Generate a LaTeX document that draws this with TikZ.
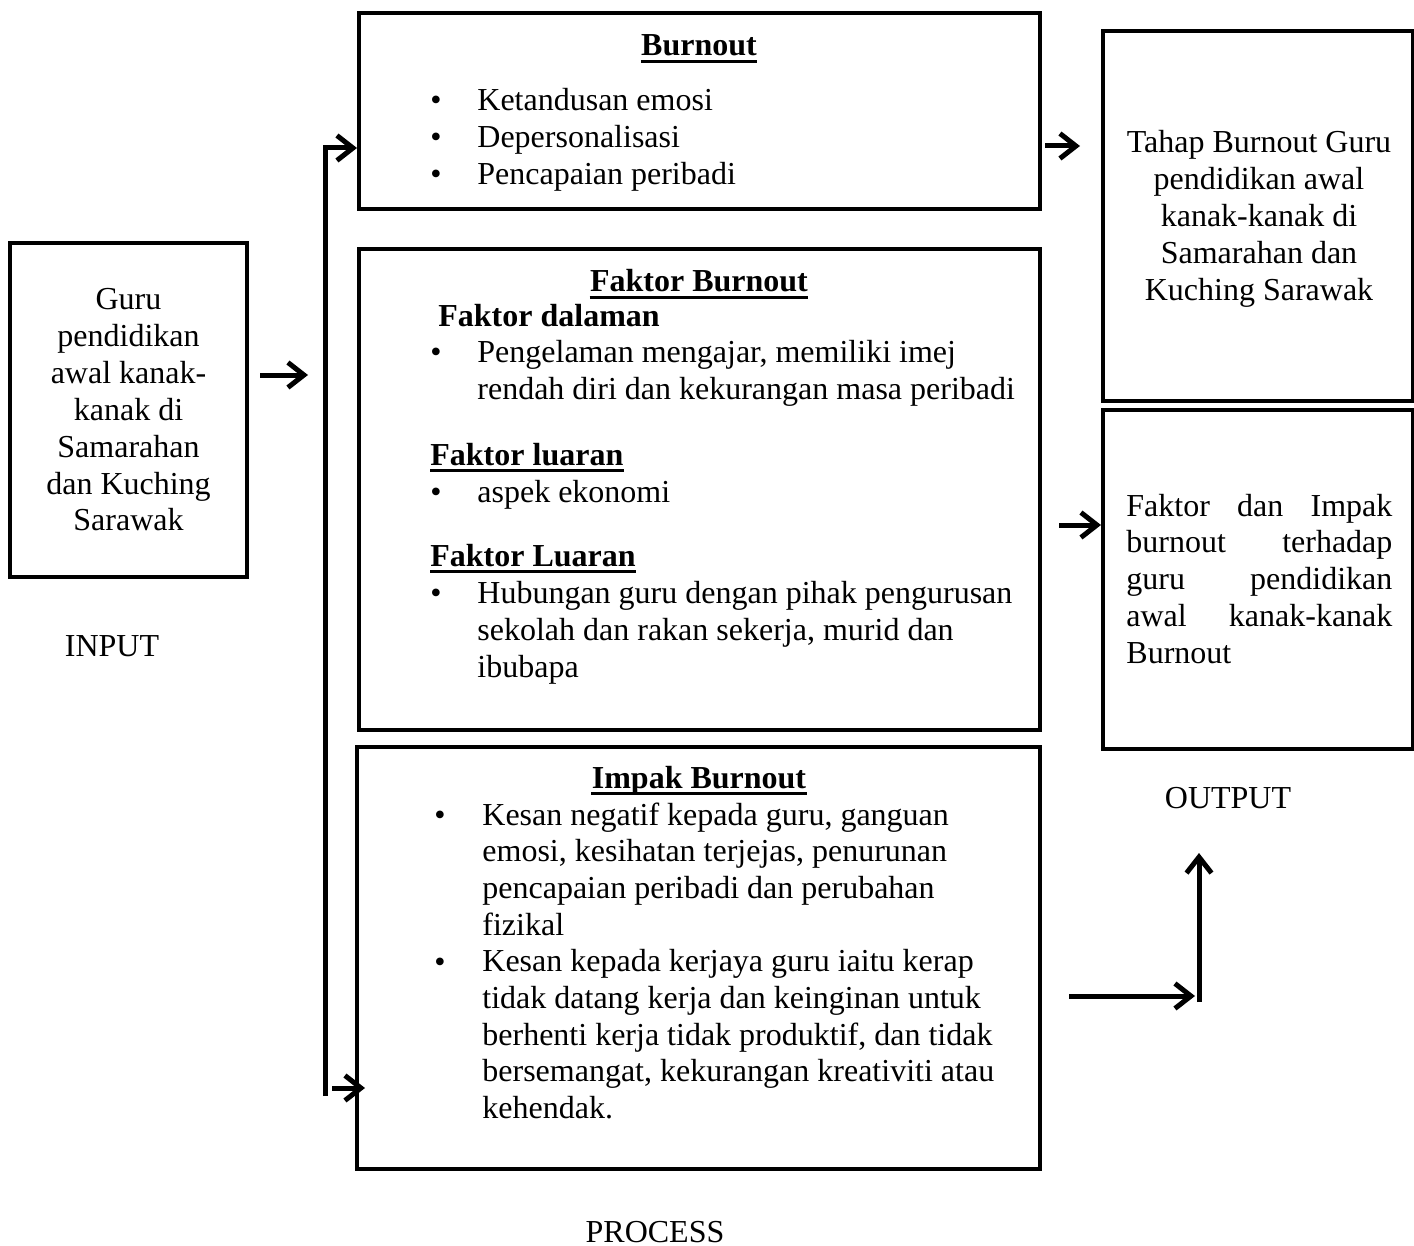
\documentclass[tikz,border=0pt]{standalone}
\usepackage{fontspec}
\setmainfont{Liberation Serif}
\usetikzlibrary{arrows.meta,fit}

\tikzset{
  box/.style={draw, line width=2pt, inner sep=0pt},
  flow/.style={line width=2.5pt, -{Straight Barb[length=8pt,width=12.5pt]}},
  txt/.style={inner sep=0pt, font=\fontsize{16}{18.5}\selectfont},
  head/.style={inner sep=0pt, font=\fontsize{16}{18.5}\selectfont\bfseries},
  uline/.style={line width=1.6pt},
}

\begin{document}
\begin{tikzpicture}[x=0.5pt,y=-0.5pt]
        \useasboundingbox (0,0) rectangle (1414,1246);

        % corners of the boxes
        \coordinate (inTL) at (10,243);    \coordinate (inBR) at (247,577);
        \coordinate (buTL) at (359,13);    \coordinate (buBR) at (1040,209);
        \coordinate (fkTL) at (359,249);   \coordinate (fkBR) at (1040,730);
        \coordinate (imTL) at (357,747);   \coordinate (imBR) at (1040,1169);
        \coordinate (thTL) at (1103,31);   \coordinate (thBR) at (1413,401);
        \coordinate (ioTL) at (1103,410);  \coordinate (ioBR) at (1413,749);

        \node[box, fit=(inTL)(inBR)] (input) {};
        \node[box, fit=(buTL)(buBR)] (burnout) {};
        \node[box, fit=(fkTL)(fkBR)] (faktor) {};
        \node[box, fit=(imTL)(imBR)] (impak) {};
        \node[box, fit=(thTL)(thBR)] (tahap) {};
        \node[box, fit=(ioTL)(ioBR)] (impakout) {};

        % arrows
        \coordinate (inA) at (260,375);
        \coordinate (inB) at (308,375);
        \coordinate (spineB) at (325,1096);
        \coordinate (spineT) at (325,148);
        \coordinate (lowA) at (332,1088);
        \coordinate (lowB) at (365,1088);
        \coordinate (buA) at (1045,146);
        \coordinate (buB) at (1080,146);
        \coordinate (fkA) at (1059,525);
        \coordinate (imA) at (1069,996);
        \coordinate (imB) at (1195,996);
        \coordinate (upB) at (1199,1002);
        \coordinate (upT) at (1199,853);

        \draw[flow] (inA) -- (inB);
        \draw[flow] (spineB) -- (spineT) -- (spineT -| burnout.west);
        \draw[flow] (lowA) -- (lowB);
        \draw[flow] (buA) -- (buB);
        \draw[flow] (fkA) -- (fkA -| impakout.west);
        \draw[flow] (imA) -- (imB);
        \draw[flow] (upB) -- (upT);

        % input
        \foreach \t [count=\i] in {Guru, pendidikan, awal kanak-, kanak di, Samarahan, dan Kuching, Sarawak}
          \node[txt, anchor=base] (in\i) at (128.5, 273.2+36.8*\i) {\t};
        \node[txt, anchor=base] (inlabel) at (112,656) {INPUT};

        % burnout
        \node[head, anchor=base] (t1) at (699,56) {Burnout};
        \foreach \t [count=\i] in {Ketandusan emosi, Depersonalisasi, Pencapaian peribadi} {
          \node[txt, anchor=base west] (bu\i) at (477, 74+37*\i) {\t};
          \node[txt, anchor=base west] (bud\i) at (430, 74+37*\i) {•};
        }

        % faktor burnout
        \node[head, anchor=base] (t2) at (699,292) {Faktor Burnout};
        \node[head, anchor=base west] (dalam) at (438,327) {Faktor dalaman};
        \node[txt, anchor=base west] (fkd1) at (430,363) {•};
        \foreach \t [count=\i] in {{Pengelaman mengajar, memiliki imej}, rendah diri dan kekurangan masa peribadi}
          \node[txt, anchor=base west] (fk\i) at (477, 326+37*\i) {\t};
        \node[head, anchor=base west] (t3) at (430,465) {Faktor luaran};
        \node[txt, anchor=base west] (fkd2) at (430,502) {•};
        \node[txt, anchor=base west] (eko) at (477,502) {aspek ekonomi};
        \node[head, anchor=base west] (t4) at (430,566) {Faktor Luaran};
        \node[txt, anchor=base west] (fkd3) at (430,603) {•};
        \foreach \t [count=\i] in {Hubungan guru dengan pihak pengurusan, {sekolah dan rakan sekerja, murid dan}, ibubapa}
          \node[txt, anchor=base west] (hub\i) at (477, 566+37*\i) {\t};

        % impak burnout
        \node[head, anchor=base] (t5) at (699,788) {Impak Burnout};
        \node[txt, anchor=base west] (imd1) at (434,825) {•};
        \node[txt, anchor=base west] (imd2) at (434,972) {•};
        \foreach \t [count=\i] in {{Kesan negatif kepada guru, ganguan}, {emosi, kesihatan terjejas, penurunan}, pencapaian peribadi dan perubahan, fizikal, Kesan kepada kerjaya guru iaitu kerap, tidak datang kerja dan keinginan untuk, {berhenti kerja tidak produktif, dan tidak}, {bersemangat, kekurangan kreativiti atau}, kehendak.}
          \node[txt, anchor=base west] (im\i) at (482, 788.3+36.7*\i) {\t};
        \node[txt, anchor=base] (prlabel) at (655,1242) {PROCESS};

        % output
        \foreach \t [count=\i] in {Tahap Burnout Guru, pendidikan awal, kanak-kanak di, Samarahan dan, Kuching Sarawak}
          \node[txt, anchor=base] (th\i) at (1259, 116+37*\i) {\t};
        \foreach \t [count=\i] in {Faktor dan Impak, burnout terhadap, guru pendidikan, awal kanak-kanak}
          \node[txt, anchor=base west] (io\i) at (1126, 479.3+36.7*\i) {\makebox[133pt][s]{\t}};
        \node[txt, anchor=base west] (io5) at (1126,663) {Burnout};
        \node[txt, anchor=base] (outlabel) at (1228,808) {OUTPUT};

        % underlines of the titles
        \foreach \n in {t1,t2,t3,t4,t5}
          \draw[uline] ([yshift=-2.6pt]\n.base west) -- ([yshift=-2.6pt]\n.base east);
    \end{tikzpicture}
\end{document}
